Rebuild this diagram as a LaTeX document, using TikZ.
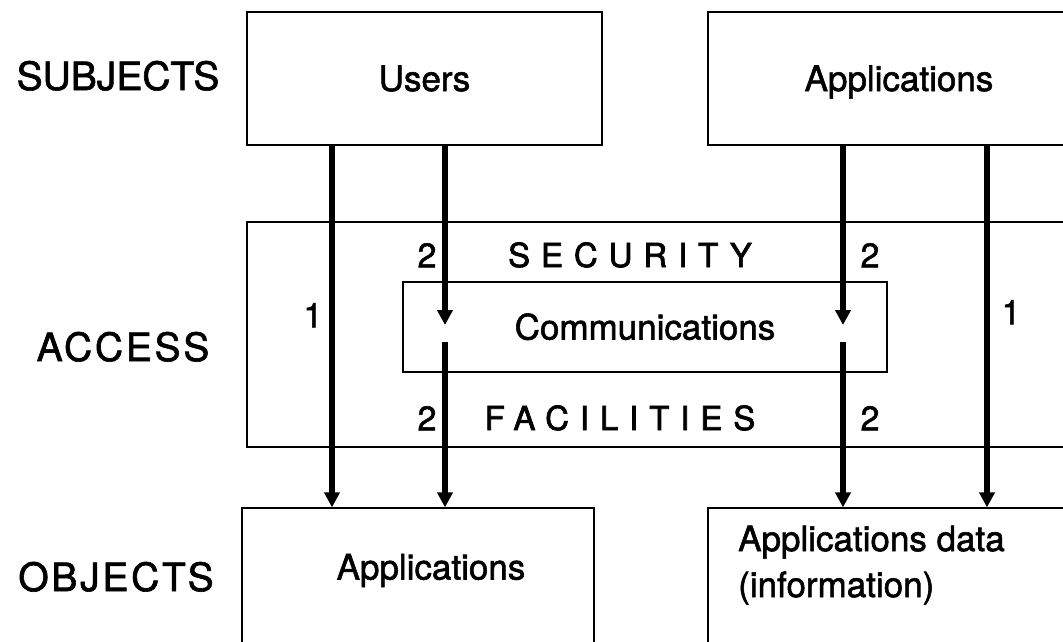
\documentclass[tikz,border=0pt]{standalone}
\usepackage{fontspec}
\setmainfont{TeX Gyre Heros}[FakeBold=1.6]
\usetikzlibrary{arrows.meta}
\begin{document}
\begin{tikzpicture}[x=1pt,y=-1pt,
  box/.style={draw, line width=1.2pt, inner sep=0pt},
  boxtxt/.style={font=\fontsize{35}{46}\selectfont, text height=25pt, text depth=0pt},
  side/.style={font=\fontsize{39}{46}\selectfont, text height=28pt, text depth=0pt, inner sep=0pt},
  num/.style={font=\fontsize{34}{40}\selectfont, text height=24.5pt, text depth=0pt, inner sep=0pt},
  spaced/.style={font=\fontsize{33}{40}\selectfont\addfontfeature{LetterSpace=33,FakeBold=2.2}, text height=24pt, text depth=0pt, inner sep=0pt},
  arr/.style={line width=5.5pt, -{Triangle[width=15pt,length=15pt]}}]
\clip (0,0) rectangle (1063,641);
% boxes
\node[box, boxtxt, minimum width=355pt, minimum height=133pt] (users) at (424.5,78.5) {Users};
\node[box, boxtxt, minimum width=382pt, minimum height=133pt] (appsT) at (899,78.5) {Applications};
\node[box, minimum width=850pt, minimum height=225pt] (access) at (672,334.5) {};
\node[box, boxtxt, minimum width=484pt, minimum height=90pt] (comm) at (645,327) {Communications};
\node[box, minimum width=352pt, minimum height=152pt] (appsB) at (418,584) {};
\node[box, minimum width=382pt, minimum height=152pt] (data) at (899,584) {};
\node[boxtxt, inner sep=0pt] (appsBtxt) at (431,567) {Applications};
\node[font=\fontsize{35}{46}\selectfont, align=left, anchor=west, inner sep=0pt] (datatxt) at (738,565) {Applications data\\(information)};
% side labels
\node[side] (subj) at (118,76) {SUBJECTS};
\node[side, font=\fontsize{39}{46}\selectfont\addfontfeature{LetterSpace=7}] (acc) at (123,347) {ACCESS};
\node[side, font=\fontsize{39}{46}\selectfont\addfontfeature{LetterSpace=7}] (obj) at (116,577) {OBJECTS};
% security / facilities
\node[spaced] (sec) at (630,255) {SECURITY};
\node[spaced] (fac) at (620,418) {FACILITIES};
% numbers
\node[num] (n2a) at (427,255) {2};
\node[num] (n2b) at (427,418) {2};
\node[num] (n1a) at (313,315) {1};
\node[num] (n2c) at (870,255) {2};
\node[num] (n2d) at (870,418) {2};
\node[num] (n1b) at (1011,312) {1};
% columns
\coordinate (c1) at (332,0);
\coordinate (c2) at (445,0);
\coordinate (c3) at (843,0);
\coordinate (c4) at (987,0);
\coordinate (t2) at (445,325);
\coordinate (s2) at (445,342);
\coordinate (t3) at (843,325);
\coordinate (s3) at (843,342);
% arrows
\draw[arr] (users.south -| c1) -- (appsB.north -| c1);
\draw[arr] (users.south -| c2) -- (t2);
\draw[arr] (s2) -- (appsB.north -| c2);
\draw[arr] (appsT.south -| c3) -- (t3);
\draw[arr] (s3) -- (data.north -| c3);
\draw[arr] (appsT.south -| c4) -- (data.north -| c4);
\end{tikzpicture}
\end{document}
